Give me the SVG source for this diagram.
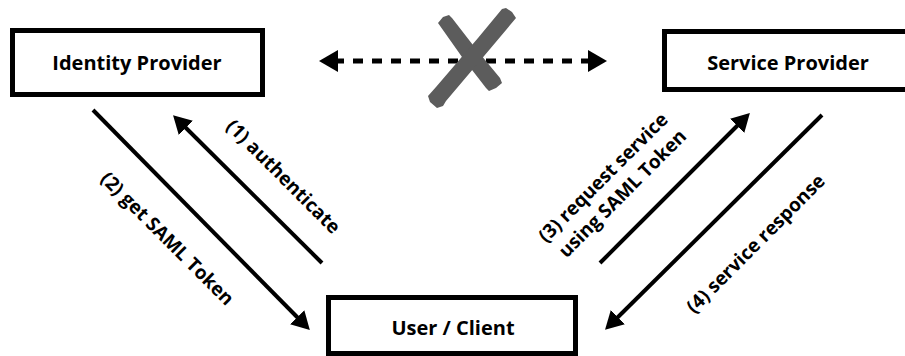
<svg xmlns="http://www.w3.org/2000/svg" width="905" height="356" viewBox="0 0 905 356">
  <style>
    .box { fill: #ffffff; stroke: #000000; stroke-width: 5; }
    .title { font-family: "Open Sans", "Liberation Sans", sans-serif; font-weight: bold; font-size: 20px; fill: #000000; text-anchor: middle; }
    .label { font-family: "Open Sans", "Liberation Sans", sans-serif; font-weight: bold; font-size: 19px; fill: #000000; text-anchor: middle; }
    .flow { stroke: #000000; stroke-width: 4; fill: none; marker-end: url(#head); }
    .trust { stroke: #000000; stroke-width: 5; fill: none; stroke-dasharray: 10 9; }
    .cross { fill: #5c5c5c; }
  </style>
  <defs>
    <marker id="head" viewBox="0 0 18 20" refX="4" refY="10" markerWidth="18" markerHeight="20" orient="auto" markerUnits="userSpaceOnUse">
      <path d="M0,0 L18,10 L0,20 Z" fill="#000000"/>
    </marker>
    <marker id="dhead" viewBox="0 0 19 22" refX="4" refY="11" markerWidth="19" markerHeight="22" orient="auto-start-reverse" markerUnits="userSpaceOnUse">
      <path d="M0,0 L19,11 L0,22 Z" fill="#000000"/>
    </marker>
  </defs>

  <g id="identity-provider">
    <rect class="box" x="12.5" y="30.5" width="250" height="64"/>
    <text class="title" x="137" y="70">Identity Provider</text>
  </g>

  <g id="service-provider">
    <rect class="box" x="664.5" y="31.5" width="260" height="58"/>
    <text class="title" x="788" y="70">Service Provider</text>
  </g>

  <g id="user-client">
    <rect class="box" x="328.5" y="297.5" width="247" height="56"/>
    <text class="title" x="453" y="335">User / Client</text>
  </g>

  <g id="connectors">
    <!-- no direct trust between the providers -->
    <line class="trust" x1="334" y1="61" x2="592" y2="61" marker-start="url(#dhead)" marker-end="url(#dhead)"/>
    <g id="no-trust-mark">
      <polygon class="cross" points="438,23 443,17 449,15 452,18 476,49 500,78 502,83 496,88 489,91 486,88 462,57"/>
      <polygon class="cross" points="502,9 506,8 512,12 516,18 490,49 446,101 443,106 437,108 430,102 428,96 436,87 478,38"/>
    </g>

    <line class="flow" x1="322" y1="263" x2="183" y2="125"/>
    <line class="flow" x1="93" y1="110" x2="300" y2="320"/>
    <line class="flow" x1="600" y1="263" x2="740" y2="123"/>
    <line class="flow" x1="822" y1="115" x2="615" y2="320"/>

    <text class="label" transform="translate(283,177) rotate(45)" y="6">(1) authenticate</text>
    <text class="label" transform="translate(167,239) rotate(45)" y="6">(2) get SAML Token</text>
    <text class="label" transform="translate(614,185) rotate(-45)">
      <tspan x="0" y="-6.5">(3) request service</tspan>
      <tspan x="0" y="18.5">using SAML Token</tspan>
    </text>
    <text class="label" transform="translate(756,244) rotate(-45)" y="6">(4) service response</text>
  </g>
</svg>
